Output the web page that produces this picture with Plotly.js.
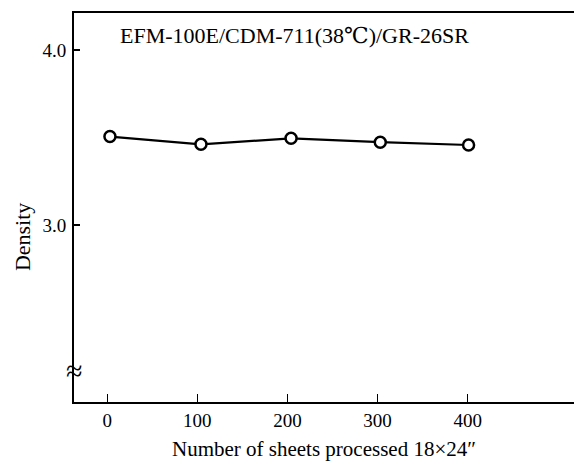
<!DOCTYPE html>
<html>
<head>
<meta charset="utf-8">
<script src="https://cdn.plot.ly/plotly-3.0.1.min.js"></script>
<style>html,body{margin:0;padding:0;background:#fff;}#chart{width:574px;height:461px;}</style>
</head>
<body>
<div id="chart"></div>
<script>
var sheets = [3, 104, 204, 303, 401];
var density = [3.505, 3.461, 3.495, 3.473, 3.457];
var xTickVals = [0, 100, 200, 300, 400];
var xTickText = ['0', '100', '200', '300', '400'];
var yTickVals = [3.0, 4.0];
var yTickText = ['3.0', '4.0'];
var chartTitle = 'EFM-100E/CDM-711(38℃)/GR-26SR';
var xTitle = 'Number of sheets processed 18×24″';
var yTitle = 'Density';

var font = '"Liberation Serif", "DejaVu Serif", serif';

var trace = {
  x: sheets, y: density, type: 'scatter', mode: 'lines+markers',
  line: {color: '#000', width: 2.2},
  marker: {symbol: 'circle', size: 11, color: '#fff', line: {width: 2.5, color: '#000'}},
  hoverinfo: 'skip'
};

var layout = {
  width: 574, height: 461,
  margin: {l: 74, r: 0, t: 13, b: 59},
  paper_bgcolor: '#fff', plot_bgcolor: '#fff',
  showlegend: false,
  font: {family: font, color: '#000', size: 18},
  xaxis: {
    range: [-36.9, 518], showgrid: false, zeroline: false,
    showline: true, linecolor: '#000', linewidth: 2, mirror: true,
    ticks: 'inside', ticklen: 8, tickwidth: 1.5, tickcolor: '#000',
    tickvals: xTickVals, ticktext: xTickText,
    tickfont: {family: font, size: 19, color: '#000'},
    title: {text: xTitle, font: {family: font, size: 21, color: '#000'}, standoff: 13}
  },
  yaxis: {
    range: [1.989, 4.211], showgrid: false, zeroline: false,
    showline: true, linecolor: '#000', linewidth: 2,
    ticks: 'inside', ticklen: 6, tickwidth: 1.5, tickcolor: '#000',
    tickvals: yTickVals, ticktext: yTickText,
    tickfont: {family: font, size: 19, color: '#000'},
    ticklabelstandoff: 2
  },
  annotations: [
    {text: chartTitle, xref: 'x', yref: 'y', x: 208, y: 4.08, showarrow: false,
     xanchor: 'center', yanchor: 'middle', font: {family: font, size: 22, color: '#000'}},
    {text: yTitle, xref: 'paper', yref: 'y', x: -0.104, y: 2.931, showarrow: false,
     textangle: -90, xanchor: 'center', yanchor: 'middle', font: {family: font, size: 22, color: '#000'}},
    {text: '≈', xref: 'paper', yref: 'y', x: 0, y: 2.17, showarrow: false,
     xanchor: 'center', yanchor: 'middle', font: {family: font, size: 30, color: '#000'}}
  ]
};

Plotly.newPlot('chart', [trace], layout, {staticPlot: true, displayModeBar: false});
</script>
</body>
</html>
